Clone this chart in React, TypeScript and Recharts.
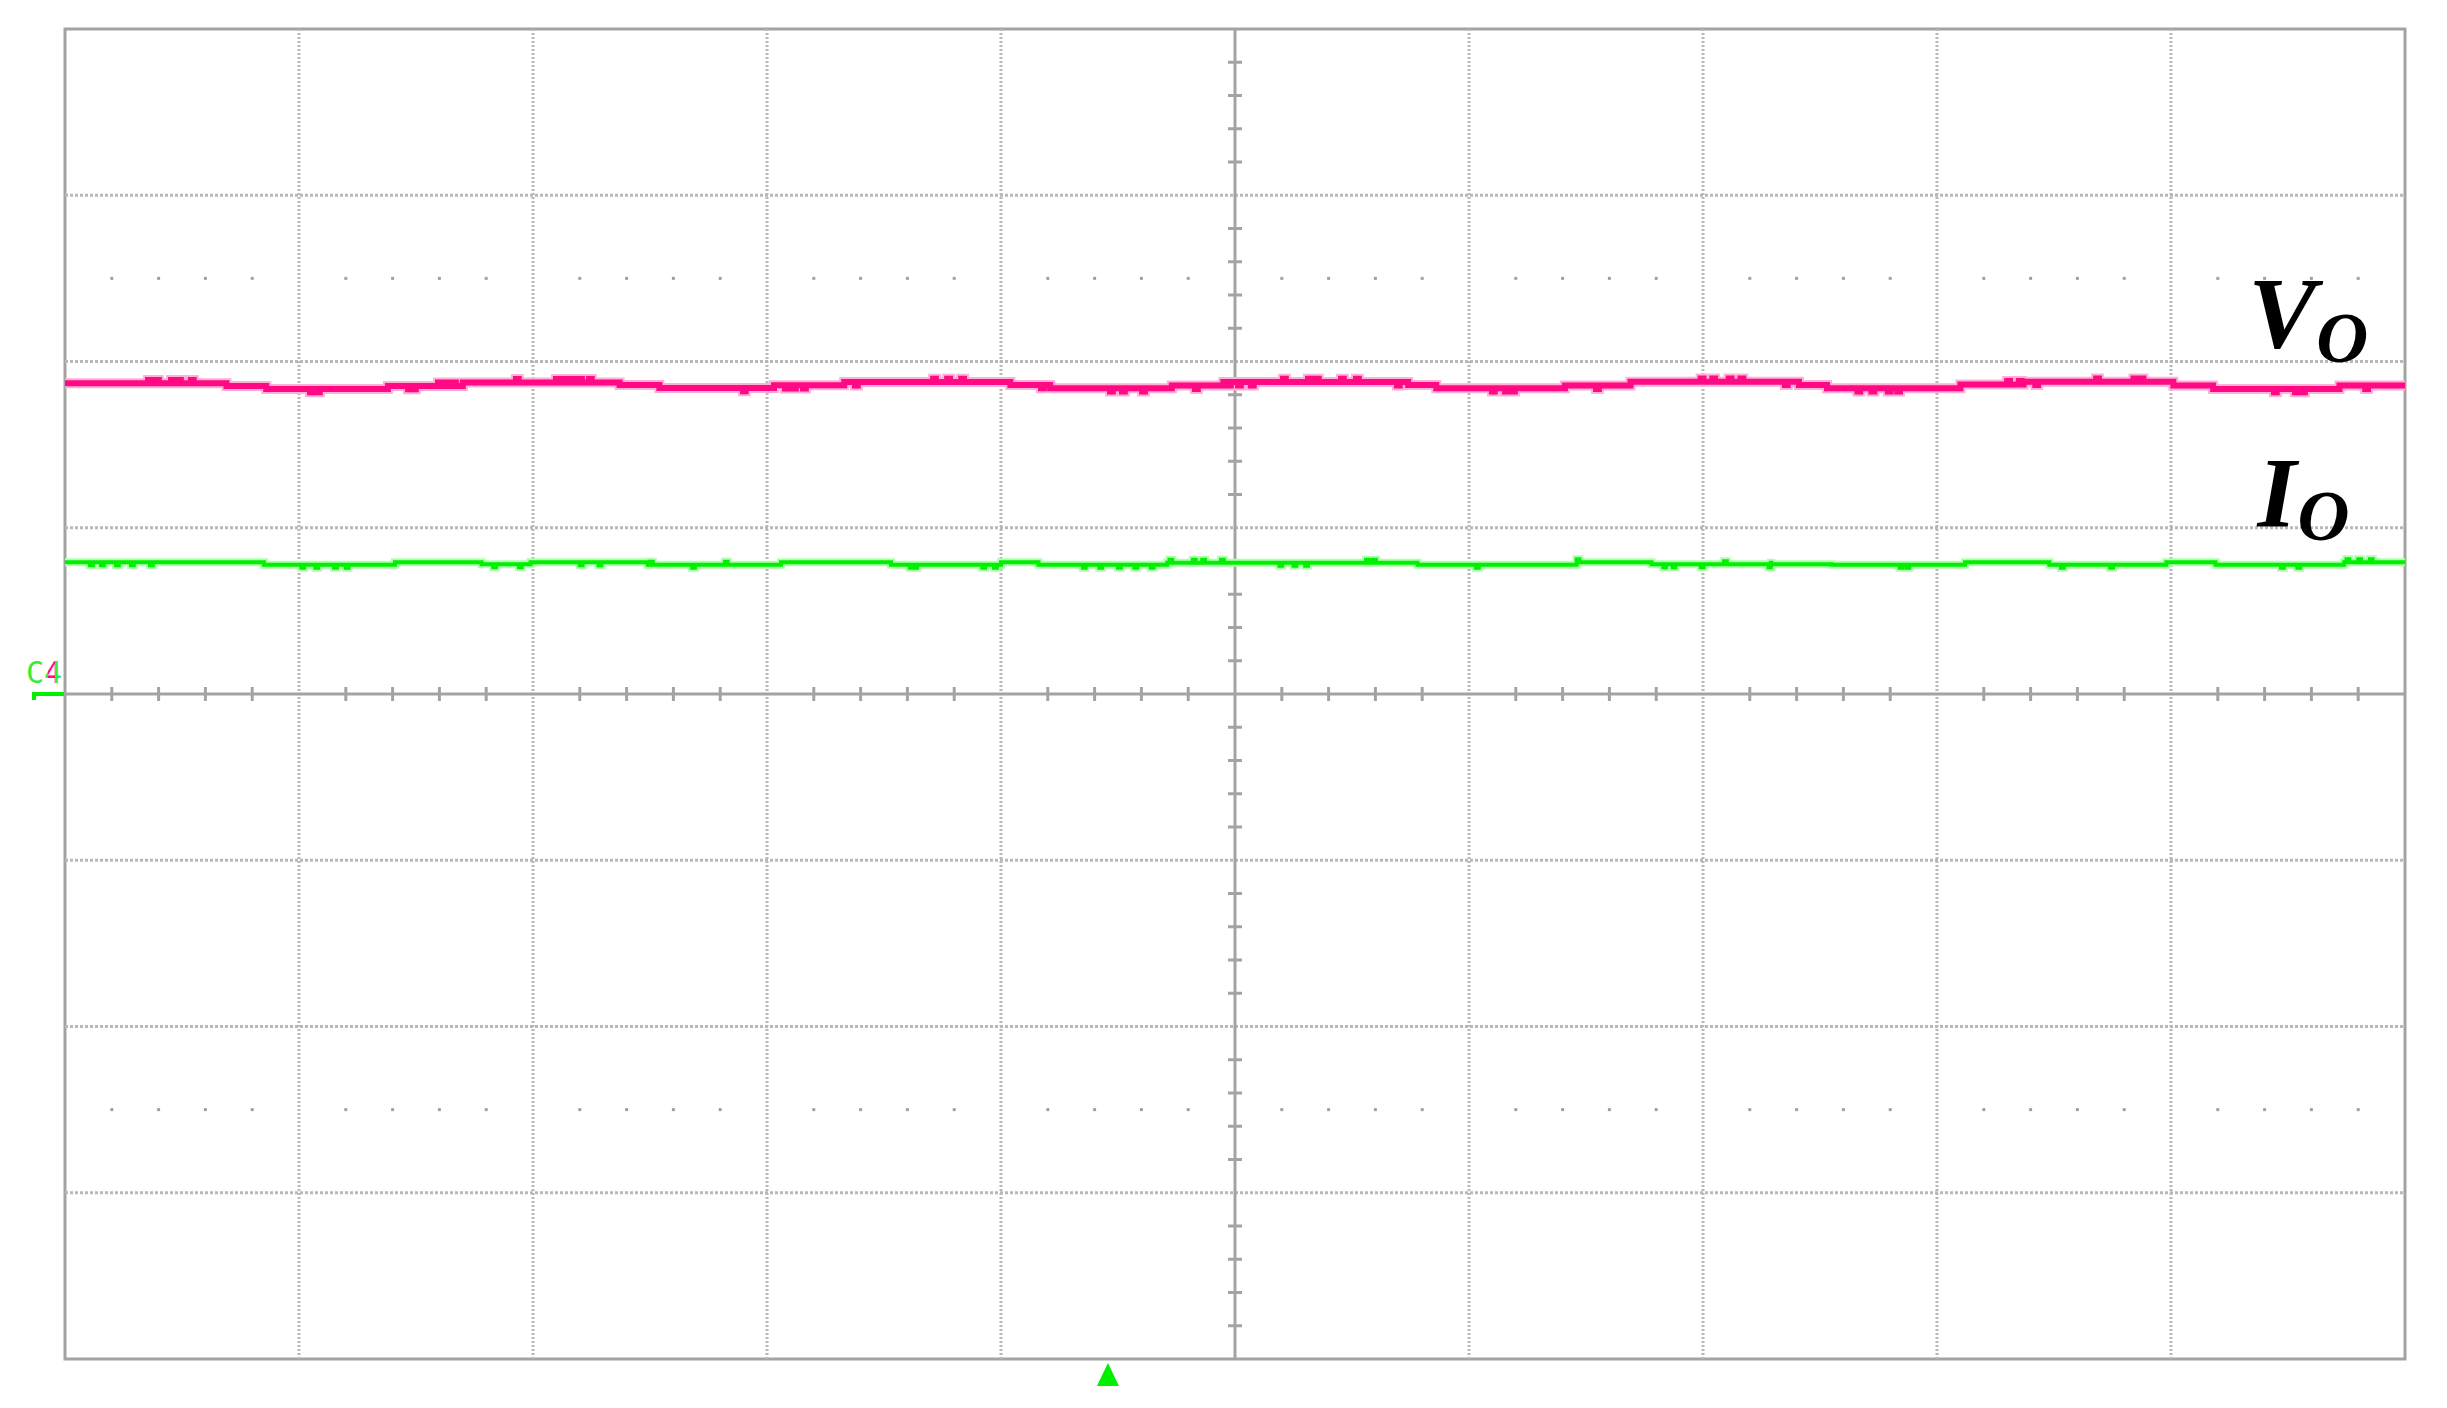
import {
  LineChart,
  Line,
  XAxis,
  YAxis,
  ReferenceLine,
  ReferenceArea,
  ReferenceDot,
  Scatter,
} from 'recharts';

// screen is 10 x 8 divisions, centre at (5, 0)
const DIV_X = [1, 2, 3, 4, 6, 7, 8, 9];
const DIV_Y = [-3, -2, -1, 1, 2, 3];
const MINOR = Array.from({ length: 49 }, (_, i) => (i + 1) * 0.2).filter(
  (v) => Math.abs(v - Math.round(v)) > 0.01
);
const MINOR_Y = Array.from({ length: 39 }, (_, i) => -4 + (i + 1) * 0.2).filter(
  (v) => Math.abs(v - Math.round(v)) > 0.01
);
const DOT_ROWS = [2.5, -2.5];

// output voltage trace (C1), divisions
const VO_T = [0, 0.69, 0.86, 1.38, 1.7, 2.37, 2.54, 3.03, 3.33, 4.04, 4.21, 4.73, 4.95, 5.74, 5.86, 6.41, 6.69, 7.41, 7.53, 8.1, 8.37, 9.01, 9.18, 9.72, 10];
const VO_V = [1.869, 1.853, 1.835, 1.853, 1.874, 1.859, 1.841, 1.857, 1.876, 1.859, 1.839, 1.855, 1.876, 1.859, 1.839, 1.855, 1.878, 1.859, 1.839, 1.862, 1.878, 1.855, 1.835, 1.855, 1.855];
// short glitches on the voltage trace: position and offset
const VO_SPIKE_T = [0.355, 0.389, 0.453, 0.483, 0.538, 1.047, 1.077, 1.466, 1.487, 1.594, 1.624, 1.658, 1.927, 2.098, 2.132, 2.162, 2.197, 2.239, 2.897, 3.077, 3.111, 3.154, 3.376, 3.71, 3.77, 3.83, 4.171, 4.466, 4.517, 4.603, 4.829, 4.97, 5.013, 5.068, 5.205, 5.312, 5.346, 5.453, 5.517, 5.692, 6.098, 6.154, 6.184, 6.543, 6.99, 7.04, 7.11, 7.16, 7.35, 7.66, 7.72, 7.79, 7.83, 8.3, 8.35, 8.42, 8.68, 8.84, 8.87, 9.44, 9.53, 9.56, 9.83];
const VO_SPIKE_D = [0.02, 0.02, 0.02, 0.02, 0.02, -0.02, -0.02, -0.02, -0.02, 0.02, 0.02, 0.02, 0.02, 0.02, 0.02, 0.02, 0.02, 0.02, -0.02, -0.02, -0.02, -0.02, -0.02, 0.02, 0.02, 0.02, -0.02, -0.02, -0.02, -0.02, -0.02, -0.02, -0.02, -0.02, 0.02, 0.02, 0.02, 0.02, 0.02, -0.02, -0.02, -0.02, -0.02, -0.02, 0.02, 0.02, 0.02, 0.02, -0.02, -0.02, -0.02, -0.02, -0.02, 0.02, 0.02, -0.02, 0.02, 0.02, 0.02, -0.02, -0.02, -0.02, -0.02];

// output current trace (C4), divisions
const IO_T = [0, 0.85, 1.41, 1.78, 1.99, 2.49, 3.06, 3.53, 4.0, 4.16, 4.71, 5.78, 6.46, 6.78, 7.29, 7.55, 8.12, 8.48, 8.98, 9.19, 9.74, 10];
const IO_V = [0.793, 0.778, 0.793, 0.78, 0.793, 0.778, 0.793, 0.778, 0.793, 0.778, 0.79, 0.778, 0.793, 0.78, 0.79, 0.778, 0.793, 0.778, 0.793, 0.778, 0.793, 0.793];
const IO_SPIKE_T = [0.107, 0.154, 0.218, 0.282, 0.363, 1.01, 1.07, 1.15, 1.2, 1.83, 1.94, 2.2, 2.28, 2.29, 2.5, 2.68, 2.82, 3.61, 3.63, 3.92, 3.97, 4.35, 4.42, 4.5, 4.57, 4.64, 4.72, 4.82, 4.86, 4.94, 5.19, 5.25, 5.3, 5.56, 5.59, 6.03, 6.46, 6.83, 6.87, 6.99, 7.09, 7.28, 7.84, 7.87, 8.53, 8.74, 9.47, 9.54, 9.75, 9.8, 9.85];
const IO_SPIKE_D = [-0.018, -0.018, -0.018, -0.018, -0.018, -0.018, -0.018, -0.018, -0.018, -0.018, -0.018, -0.018, -0.018, -0.018, 0.018, -0.018, 0.018, -0.018, -0.018, -0.018, -0.018, -0.018, -0.018, -0.018, -0.018, -0.018, 0.018, 0.018, 0.018, 0.018, -0.018, -0.018, -0.018, 0.018, 0.018, -0.018, 0.018, -0.018, -0.018, -0.018, 0.018, -0.018, -0.018, -0.018, -0.018, -0.018, -0.018, -0.018, 0.018, 0.018, 0.018];

// merge the level steps with the glitches into one step series
const buildTrace = (ts: number[], vs: number[], st: number[], sd: number[]) => {
  const level = (t: number) => {
    let v = vs[0];
    ts.forEach((x, i) => {
      if (x <= t) v = vs[i];
    });
    return v;
  };
  const pts = ts.map((t, i) => ({ t, v: vs[i] }));
  st.forEach((t, i) => {
    const base = level(t);
    pts.push({ t, v: base + sd[i] });
    pts.push({ t: t + 0.012, v: base });
  });
  return pts.sort((a, b) => a.t - b.t);
};

const voData = buildTrace(VO_T, VO_V, VO_SPIKE_T, VO_SPIKE_D);
const ioData = buildTrace(IO_T, IO_V, IO_SPIKE_T, IO_SPIKE_D);
const dotData = DOT_ROWS.flatMap((v) => MINOR.map((t) => ({ t, v })));

const GRID = '#b8b8b8';
const AXIS = '#a3a3a3';
const PINK = '#ff0a84';
const GREEN = '#00f000';

const labelStyle = {
  fontFamily: '"Liberation Serif", "Times New Roman", serif',
  fontWeight: 700,
  fontStyle: 'italic',
};

const SmallDot = (p: any) => (
  <rect x={p.cx - 1.5} y={p.cy - 1.5} width={3} height={3} fill="#a0a0a0" />
);

export default function App() {
  return (
    <LineChart
      width={2431}
      height={1392}
      margin={{ top: 21, right: 34, bottom: 41, left: 57 }}
    >
      <XAxis type="number" dataKey="t" domain={[0, 10]} hide allowDataOverflow />
      <YAxis type="number" dataKey="v" domain={[-4, 4]} hide allowDataOverflow />

      {DIV_Y.map((y) => (
        <ReferenceLine key={'h' + y} y={y} stroke={GRID} strokeWidth={3} strokeDasharray="3 2" />
      ))}
      {DIV_X.map((x) => (
        <ReferenceLine key={'v' + x} x={x} stroke={GRID} strokeWidth={3} strokeDasharray="2 2" />
      ))}
      <ReferenceLine y={0} stroke={AXIS} strokeWidth={3} />
      <ReferenceLine x={5} stroke={AXIS} strokeWidth={3} />
      {MINOR.map((x) => (
        <ReferenceLine
          key={'tx' + x}
          segment={[{ x, y: -0.042 }, { x, y: 0.042 }]}
          stroke={AXIS}
          strokeWidth={3}
        />
      ))}
      {MINOR_Y.map((y) => (
        <ReferenceLine
          key={'ty' + y}
          segment={[{ x: 4.97, y }, { x: 5.03, y }]}
          stroke={AXIS}
          strokeWidth={3}
        />
      ))}
      <ReferenceArea
        x1={0}
        x2={10}
        y1={-4}
        y2={4}
        fill="none"
        fillOpacity={0}
        stroke={AXIS}
        strokeWidth={3}
      />

      <Scatter data={dotData} dataKey="v" shape={SmallDot} isAnimationActive={false} />

      <Line data={voData} dataKey="v" type="stepAfter" stroke="#ffb0d4" strokeWidth={10} dot={false} isAnimationActive={false} />
      <Line data={voData} dataKey="v" type="stepAfter" stroke={PINK} strokeWidth={6} dot={false} isAnimationActive={false} />
      <Line data={ioData} dataKey="v" type="stepAfter" stroke="#b0ffb0" strokeWidth={8} dot={false} isAnimationActive={false} />
      <Line data={ioData} dataKey="v" type="stepAfter" stroke={GREEN} strokeWidth={4} dot={false} isAnimationActive={false} />

      <ReferenceDot
        x={9.33}
        y={2.08}
        ifOverflow="visible"
        shape={(p: any) => (
          <text x={p.cx} y={p.cy} fontSize={102} fill="#000" style={labelStyle}>
            V
            <tspan fontSize={72} dx={0} dy={14}>O</tspan>
          </text>
        )}
      />
      <ReferenceDot
        x={9.37}
        y={1.01}
        ifOverflow="visible"
        shape={(p: any) => (
          <text x={p.cx} y={p.cy} fontSize={100} fill="#000" style={labelStyle}>
            I
            <tspan fontSize={72} dx={1} dy={14}>O</tspan>
          </text>
        )}
      />

      <ReferenceDot
        x={0}
        y={0}
        ifOverflow="visible"
        shape={(p: any) => (
          <g>
            <defs>
              <linearGradient
                id="chMix"
                gradientUnits="userSpaceOnUse"
                x1={p.cx - 21}
                y1={0}
                x2={p.cx - 3}
                y2={0}
              >
                <stop offset="0%" stopColor="#33ee33" />
                <stop offset="25%" stopColor="#33ee33" />
                <stop offset="25%" stopColor={PINK} />
                <stop offset="60%" stopColor={PINK} />
                <stop offset="60%" stopColor="#33ee33" />
                <stop offset="100%" stopColor="#33ee33" />
              </linearGradient>
            </defs>
            <text x={p.cx - 39} y={p.cy - 11} fontSize={30} fill="#33ee33" fontFamily="DejaVu Sans Mono">
              C<tspan fill="url(#chMix)">4</tspan>
            </text>
            <path
              d={`M${p.cx - 31} ${p.cy + 6} V${p.cy} H${p.cx - 1}`}
              fill="none"
              stroke={GREEN}
              strokeWidth={4}
            />
          </g>
        )}
      />
      <ReferenceDot
        x={4.457}
        y={-4}
        ifOverflow="visible"
        shape={(p: any) => (
          <polygon
            points={`${p.cx},${p.cy + 4} ${p.cx - 11},${p.cy + 27} ${p.cx + 11},${p.cy + 27}`}
            fill={GREEN}
          />
        )}
      />
    </LineChart>
  );
}
